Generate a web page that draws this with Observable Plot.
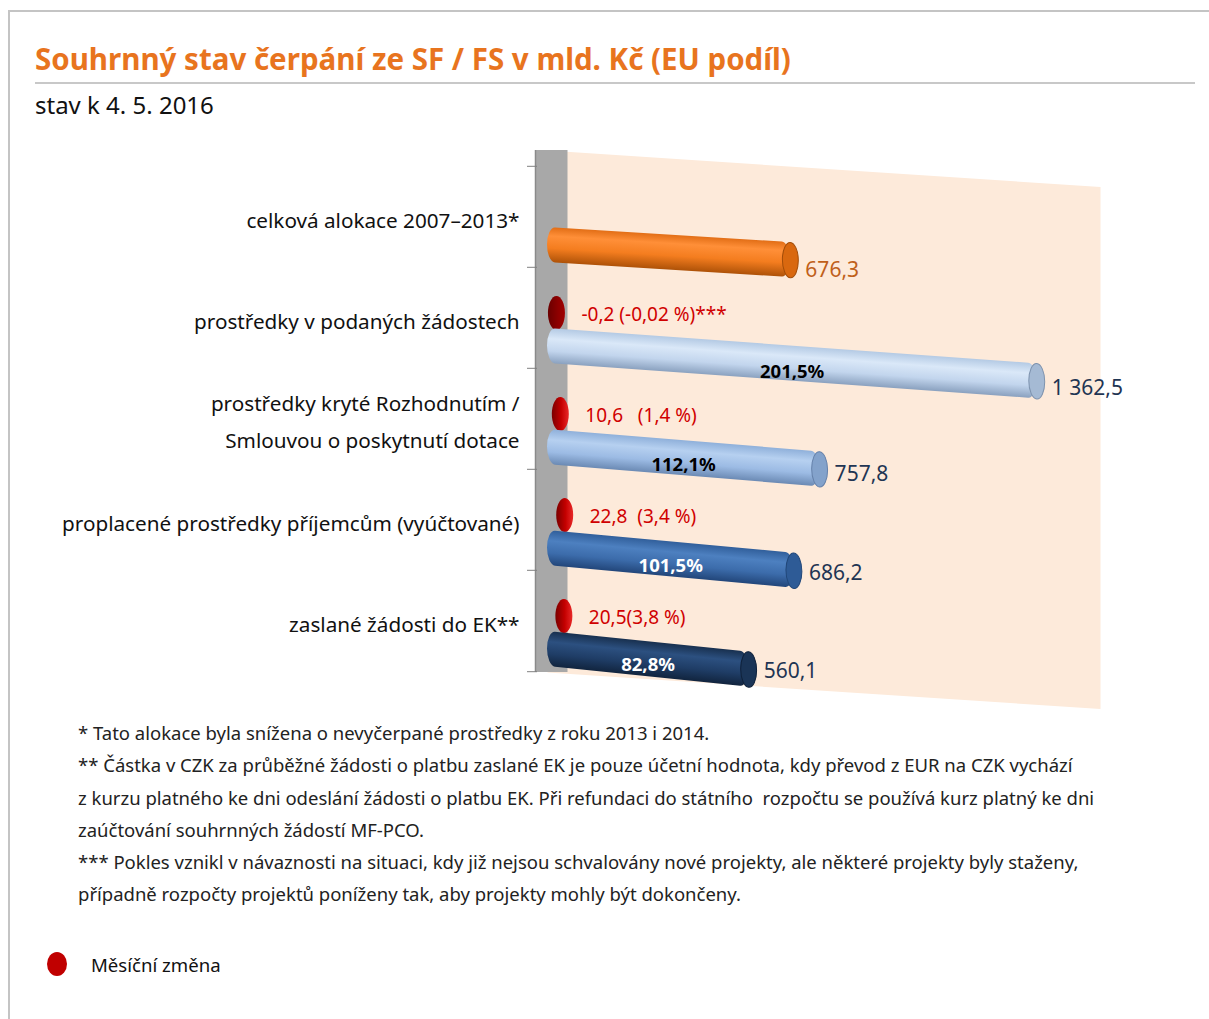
<!DOCTYPE html>
<html>
<head>
<meta charset="utf-8">
<script src="https://cdn.jsdelivr.net/npm/d3@7"></script>
<script src="https://cdn.jsdelivr.net/npm/@observablehq/plot@0.6"></script>
<style>
  html, body { margin: 0; padding: 0; background: #fff; }
  body { font-family: "Noto Sans", sans-serif; color: #111; }
  #page { position: relative; width: 1209px; height: 1019px; overflow: hidden; }
  #border { position: absolute; left: 8px; top: 10px; width: 1400px; height: 1200px;
            border-left: 2px solid #c4c4c4; border-top: 2px solid #c4c4c4; }
  #title { position: absolute; left: 35px; top: 42px; font-size: 29.5px; line-height: 34px;
           font-weight: bold; color: #E8741E; white-space: nowrap; }
  #rule { position: absolute; left: 35px; top: 82px; width: 1160px; height: 2px; background: #c8c8c8; }
  #subtitle { position: absolute; left: 35px; top: 91px; font-size: 24px; line-height: 28px; color: #111; }
  #chart { position: absolute; left: 0; top: 140px; }
  #notes { position: absolute; left: 78px; top: 717px; font-size: 18.5px; line-height: 32.3px; color: #222; white-space: nowrap; }
  #legend { position: absolute; left: 47px; top: 952px; height: 24px; display: flex; align-items: center; }
  #legend .sw { width: 20px; height: 24px; border-radius: 50%; background: #C00000; margin-right: 24px; }
  #legend .lb { font-size: 18.6px; color: #111; }
  svg text { white-space: pre; }
</style>
</head>
<body>
<div id="page">
  <div id="border"></div>
  <div id="title">Souhrnný stav čerpání ze SF / FS v mld. Kč (EU podíl)</div>
  <div id="rule"></div>
  <div id="subtitle">stav k 4. 5. 2016</div>
  <div id="chart"></div>
  <div id="notes">
    <div>* Tato alokace byla snížena o nevyčerpané prostředky z roku 2013 i 2014.</div>
    <div>** Částka v CZK za průběžné žádosti o platbu zaslané EK je pouze účetní hodnota, kdy převod z EUR na CZK vychází</div>
    <div>z kurzu platného ke dni odeslání žádosti o platbu EK. Při refundaci do státního&nbsp; rozpočtu se používá kurz platný ke dni</div>
    <div>zaúčtování souhrnných žádostí MF-PCO.</div>
    <div>*** Pokles vznikl v návaznosti na situaci, kdy již nejsou schvalovány nové projekty, ale některé projekty byly staženy,</div>
    <div>případně rozpočty projektů poníženy tak, aby projekty mohly být dokončeny.</div>
  </div>
  <div id="legend"><div class="sw"></div><div class="lb">Měsíční změna</div></div>
</div>
<script>
// ---------- data ----------
const categories = [
  "celková alokace 2007–2013*",
  "prostředky v podaných žádostech",
  "prostředky kryté Rozhodnutím /\nSmlouvou o poskytnutí dotace",
  "proplacené prostředky příjemcům (vyúčtované)",
  "zaslané žádosti do EK**"
];
const values = [676.3, 1362.5, 757.8, 686.2, 560.1];
const valueLabels = ["676,3", "1 362,5", "757,8", "686,2", "560,1"];
const shareLabels = ["", "201,5%", "112,1%", "101,5%", "82,8%"];
const monthlyChange = [null, -0.2, 10.6, 22.8, 20.5];
const changeLabels = ["", "-0,2 (-0,02 %)***", "10,6   (1,4 %)", "22,8  (3,4 %)", "20,5(3,8 %)"];

// ---------- styles ----------
const barGradients = [
  [[0, "#E26E16"], [0.25, "#FF8F38"], [0.6, "#F47D1F"], [1, "#AE5208"]],
  [[0, "#B4CAE4"], [0.3, "#DAE8F8"], [0.65, "#C2D5ED"], [1, "#8AA1BF"]],
  [[0, "#8FB0DA"], [0.3, "#B6D0F0"], [0.65, "#9CBBE4"], [1, "#6B8AB4"]],
  [[0, "#315F9B"], [0.3, "#4D80C0"], [0.65, "#3C6CAB"], [1, "#22467A"]],
  [[0, "#18304F"], [0.3, "#2C5080"], [0.65, "#1F3D66"], [1, "#11243E"]]
];
const capFill = ["#D9680F", "#A5BAD4", "#83A2CB", "#2E5B96", "#1A3456"];
const capStroke = ["#A24C08", "#7E93AE", "#6581AA", "#22487A", "#0F213A"];
const valueColors = ["#C0601A", "#1F3553", "#1F3553", "#1F3553", "#1F3553"];
const shareColors = ["#000", "#000", "#000", "#fff", "#fff"];
const changeFills = [null, "url(#redcapDark)", "url(#redcap)", "url(#redcap)", "url(#redcap)"];

const rows = categories.map((c, i) => ({
  category: c, value: values[i], valueLabel: valueLabels[i], share: shareLabels[i],
  change: monthlyChange[i], changeLabel: changeLabels[i],
  valueColor: valueColors[i], shareColor: shareColors[i], changeFill: changeFills[i]
}));
const changeRows = rows.filter(r => r.change != null);
const shareRows = rows.filter(r => r.share);

// ---------- layout ----------
const W = 1209, H = 590;
const X0 = 547, XR = 1100;
const Y_TOP = 25, Y_BOT = 532;
const BW = (Y_BOT - Y_TOP) / categories.length;
const BAR_INSET_TOP = 61, BAR_INSET_BOTTOM = 5;
const BAR_T = BW - BAR_INSET_TOP - BAR_INSET_BOTTOM;
const BAR_DY = BAR_INSET_TOP + BAR_T / 2 - BW / 2;   // bar centre relative to band centre
const PANEL_SLOPE = 0.066;
const LABEL_SLOPE = 0.07;
const rowSlope = i => 0.062 + 0.010 * i;

function ellipse(ratio) {
  return {
    draw(ctx, size) {
      const ry = Math.sqrt(size / Math.PI), rx = ry * ratio, k = 0.5523;
      ctx.moveTo(rx, 0);
      ctx.bezierCurveTo(rx, k * ry, k * rx, ry, 0, ry);
      ctx.bezierCurveTo(-k * rx, ry, -rx, k * ry, -rx, 0);
      ctx.bezierCurveTo(-rx, -k * ry, -k * rx, -ry, 0, -ry);
      ctx.bezierCurveTo(k * rx, -ry, rx, -k * ry, rx, 0);
      ctx.closePath();
    }
  };
}

const marks = [
  Plot.frame({fill: "#FDEADA", ariaDescription: "skew-panel"}),
  Plot.ruleX([0], {stroke: "#A8A8A8", strokeWidth: 32, dx: 4}),
  Plot.ruleX([0], {stroke: "#8a8a8a", strokeWidth: 1.5, dx: -12}),
  Plot.ruleY(categories, {y: d => d, x1: 0, x2: 0, dy: -BW / 2, insetLeft: -20, insetRight: 10, stroke: "#808080"}),
  Plot.ruleY(categories.slice(-1), {y: d => d, x1: 0, x2: 0, dy: BW / 2, insetLeft: -20, insetRight: 10, stroke: "#808080"}),
  Plot.text(rows, {y: "category", text: "category", frameAnchor: "left", textAnchor: "end",
                   dx: -28, dy: -1, fontSize: 20.7, lineHeight: 1.78, fill: "#111"}),
  Plot.dot(changeRows, {x: "change", y: "category", dx: 9, dy: -5, r: 17,
                        symbol: ellipse(0.5), fill: "changeFill"}),
  Plot.text(changeRows, {x: "change", y: "category", text: "changeLabel", textAnchor: "start",
                         dx: 34, dy: -3, fontSize: 19, fill: "#D00000"})
];
rows.forEach((r, i) => {
  marks.push(
    Plot.barX([r], {x: "value", y: "category", fill: `url(#bar${i})`, insetTop: BAR_INSET_TOP,
                    insetBottom: BAR_INSET_BOTTOM, rx: 8, ry: BAR_T / 2, ariaDescription: `skew-row-${i}`}),
    Plot.dot([r], {x: "value", y: "category", dy: BAR_DY, r: BAR_T / 2, symbol: ellipse(0.45),
                   fill: capFill[i], stroke: capStroke[i], strokeWidth: 1, ariaDescription: `skew-cap-${i}`})
  );
});
marks.push(
  Plot.text(shareRows, {x: d => d.value / 2, y: "category", text: "share", fontWeight: "bold",
                        fontSize: 18.5, dy: BAR_DY + 9, fill: "shareColor", ariaDescription: "skew-text-share"}),
  Plot.text(rows, {x: "value", y: "category", text: "valueLabel", textAnchor: "start",
                   dx: 15, dy: BAR_DY + 7, fontSize: 21, fill: "valueColor", ariaDescription: "skew-text-values"})
);

const svg = Plot.plot({
  width: W, height: H,
  marginLeft: X0, marginRight: W - XR, marginTop: 10, marginBottom: H - Y_BOT,
  x: {domain: [0, 1540], axis: null},
  y: {domain: categories, range: [Y_TOP, Y_BOT], padding: 0, axis: null},
  color: {type: "identity"},
  style: {fontFamily: "Noto Sans, sans-serif", fontSize: "20px", background: "transparent", overflow: "visible"},
  marks
});

// gradients
const defs = d3.select(svg).insert("defs", ":first-child");
function grad(id, stops, horizontal) {
  const g = defs.append("linearGradient").attr("id", id)
    .attr("x1", 0).attr("y1", 0).attr("x2", horizontal ? 1 : 0).attr("y2", horizontal ? 0 : 1);
  stops.forEach(([o, c]) => g.append("stop").attr("offset", o).attr("stop-color", c));
}
barGradients.forEach((s, i) => grad(`bar${i}`, s, false));
grad("redcap", [[0, "#7A0000"], [0.55, "#C40000"], [1, "#E82828"]], true);
grad("redcapDark", [[0, "#6A0000"], [0.6, "#8E0000"], [1, "#A00000"]], true);

// perspective-like skew about the value axis origin
function skew(g, t, unslantText) {
  const deg = Math.atan(t) * 180 / Math.PI;
  const prev = g.getAttribute("transform") || "";
  g.setAttribute("transform", `translate(${X0},0) skewY(${deg}) translate(${-X0},0) ${prev}`);
  if (unslantText) {
    const texts = g.tagName.toLowerCase() === "text" ? [] : g.querySelectorAll("text");
    texts.forEach(tx => {
      const tr = tx.getAttribute("transform");
      if (tr) tx.setAttribute("transform", `${tr} skewY(${-deg})`);
      else {
        const x = +tx.getAttribute("x") || 0, y = +tx.getAttribute("y") || 0;
        tx.removeAttribute("x"); tx.removeAttribute("y");
        tx.setAttribute("transform", `translate(${x},${y}) skewY(${-deg})`);
      }
    });
  }
}
svg.querySelectorAll('[aria-description^="skew-"]').forEach(g => {
  const lab = g.getAttribute("aria-description");
  const m = lab.match(/-(\d+)$/);
  if (lab === "skew-panel") skew(g, PANEL_SLOPE, false);
  else if (lab.startsWith("skew-text")) skew(g, LABEL_SLOPE, true);
  else if (m) skew(g, rowSlope(+m[1]), false);
});

document.getElementById("chart").appendChild(svg);
</script>
</body>
</html>
